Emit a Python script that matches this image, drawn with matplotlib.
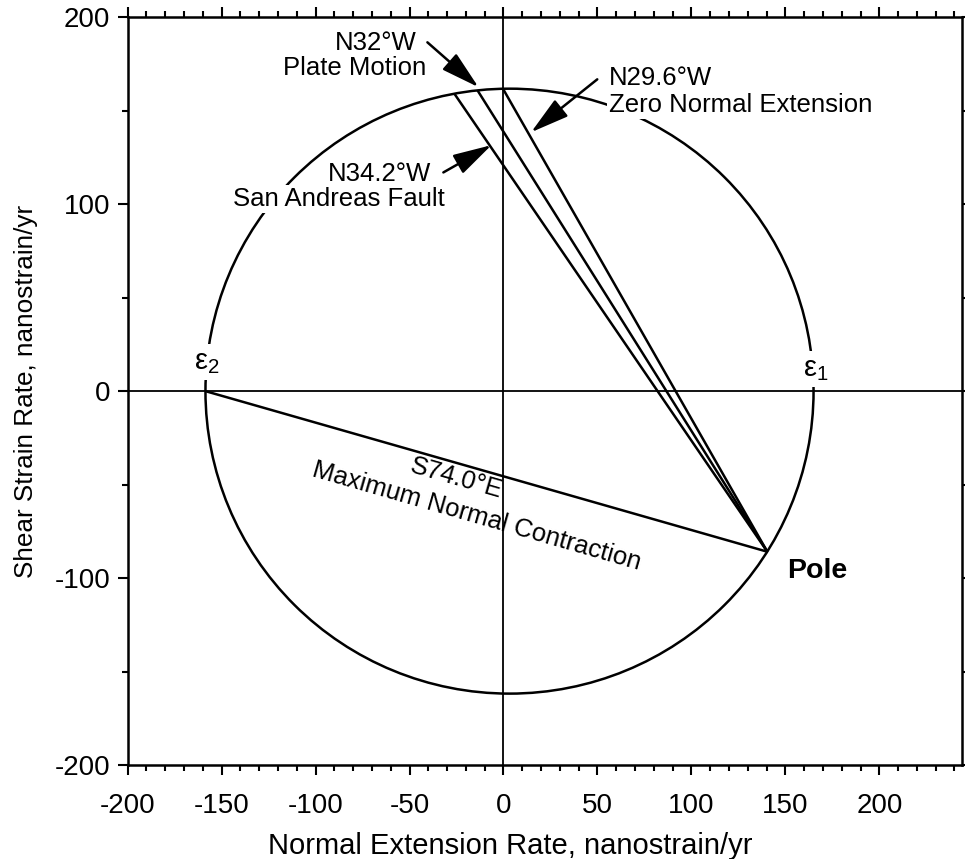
import matplotlib
matplotlib.use("Agg")
import matplotlib.pyplot as plt
from matplotlib.patches import Circle
from matplotlib.ticker import MultipleLocator

plt.rcParams['font.family'] = ['Liberation Sans', 'DejaVu Sans']
plt.rcParams['axes.unicode_minus'] = False
plt.rcParams['mathtext.fontset'] = 'custom'
plt.rcParams['mathtext.rm'] = 'Liberation Sans'
plt.rcParams['mathtext.default'] = 'regular'

# ---- data ----
circle_center = (3.2, 0.0)
circle_radius = 161.8
pole_x, pole_y = 140.4, -85.9
# end points (on the circle) of the lines drawn from the pole
line_names = ["Max contraction", "San Andreas", "Plate motion", "Zero extension"]
line_end_x = [-158.6, -26.2, -13.9, -0.3]
line_end_y = [0.0, 159.2, 161.0, 161.8]

x_ticks = [-200, -150, -100, -50, 0, 50, 100, 150, 200]
y_ticks = [-200, -100, 0, 100, 200]
x_limits = (-200, 244)
y_limits = (-200, 200)

fig = plt.figure(figsize=(9.65, 8.59), dpi=100)
ax = fig.add_axes([0.1323, 0.1094, 0.8646, 0.8705])
ax.set_xlim(*x_limits)
ax.set_ylim(*y_limits)

# axes cross lines
ax.axhline(0, color='black', lw=1.3, zorder=1)
ax.axvline(0, color='black', lw=1.3, zorder=1)

# Mohr circle
ax.add_patch(Circle(circle_center, circle_radius, fill=False, ec='black', lw=1.8, zorder=2))

# lines from pole
for ex, ey in zip(line_end_x, line_end_y):
    ax.plot([pole_x, ex], [pole_y, ey], color='black', lw=1.8, zorder=3,
            solid_capstyle='butt')

ann_fs = 18.5
white = dict(facecolor='white', edgecolor='none', pad=1.5)
arrow_style = dict(arrowstyle='-|>,head_length=0.95,head_width=0.26', color='black',
                   lw=1.8, shrinkA=0, shrinkB=0, mutation_scale=25)

# Plate motion
ax.text(-46.4, 186.0, "N32°W", ha='right', va='center', fontsize=ann_fs, zorder=5)
ax.text(-41.0, 172.7, "Plate Motion", ha='right', va='center', fontsize=ann_fs, zorder=5)
ax.annotate("", xy=(-13.3, 162.6), xytext=(-40.5, 186.6), arrowprops=arrow_style, zorder=6)

# San Andreas
ax.text(-38.4, 116.0, "N34.2°W", ha='right', va='center', fontsize=ann_fs, zorder=5)
ax.text(-31.5, 102.7, "San Andreas Fault", ha='right', va='center', fontsize=ann_fs,
        zorder=5, bbox=white)
ax.annotate("", xy=(-6.4, 131.6), xytext=(-32.0, 117.0), arrowprops=arrow_style, zorder=6)

# Zero normal extension
ax.text(56.3, 167.6, "N29.6°W", ha='left', va='center', fontsize=ann_fs, zorder=5)
ax.text(56.3, 153.0, "Zero Normal Extension", ha='left', va='center', fontsize=ann_fs,
        zorder=5, bbox=white)
ax.annotate("", xy=(14.7, 138.5), xytext=(49.9, 166.8), arrowprops=arrow_style, zorder=6)

# principal strains
ax.text(-158.0, 15.5, r"ε$_2$", ha='center', va='center', fontsize=21, zorder=5,
        bbox=dict(facecolor='white', edgecolor='none', pad=3))
ax.text(166.0, 12.0, r"ε$_1$", ha='center', va='center', fontsize=21, zorder=5,
        bbox=dict(facecolor='white', edgecolor='none', pad=3))

# Pole
ax.text(167.0, -96.3, "Pole", ha='center', va='center', fontsize=20.5, fontweight='bold', zorder=5)

# Maximum normal contraction
ax.text(-25.0, -46.5, "S74.0°E", ha='center', va='center', fontsize=ann_fs,
        rotation=-16, rotation_mode='anchor', zorder=5)
ax.text(-14.4, -67.0, "Maximum Normal Contraction", ha='center', va='center', fontsize=ann_fs,
        rotation=-16, rotation_mode='anchor', zorder=5)

# ticks
ax.set_xticks(x_ticks)
ax.set_yticks(y_ticks)
ax.xaxis.set_minor_locator(MultipleLocator(10))
ax.yaxis.set_minor_locator(MultipleLocator(50))
ax.tick_params(which='both', direction='out', top=True, right=True, width=1.5)
ax.tick_params(which='major', length=7.5)
ax.tick_params(which='minor', length=4.5)
ax.tick_params(axis='x', which='major', labelsize=20, pad=13)
ax.tick_params(axis='y', which='major', labelsize=20, pad=5)
for s in ax.spines.values():
    s.set_linewidth(1.8)

ax.set_xlabel("Normal Extension Rate, nanostrain/yr", fontsize=21, labelpad=10)
ax.xaxis.set_label_coords(0.458, -0.09)
ax.set_ylabel("Shear Strain Rate, nanostrain/yr", fontsize=18.8, labelpad=12)

fig.savefig("out.png", dpi=100)
